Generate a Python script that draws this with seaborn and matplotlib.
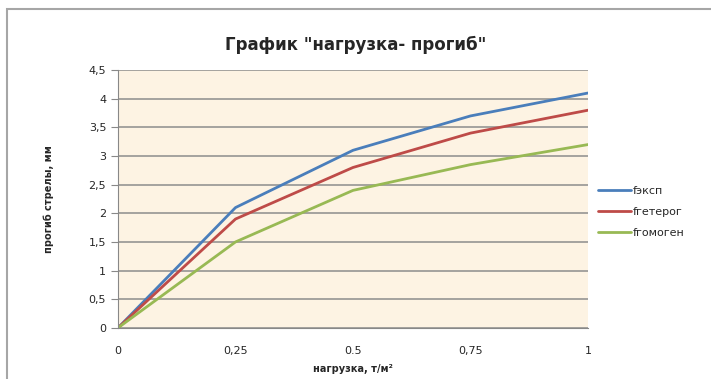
import pandas as pd
import matplotlib.pyplot as plt
import matplotlib.patches as mpatches
import seaborn as sns

# нагрузка, т/м2
load = [0, 0.25, 0.5, 0.75, 1]
f_exp = [0, 2.1, 3.1, 3.7, 4.1]
f_het = [0, 1.9, 2.8, 3.4, 3.8]
f_hom = [0, 1.5, 2.4, 2.85, 3.2]
series_names = ["fэксп", "fгетерог", "fгомоген"]
colors = ["#4A7EBB", "#BE4B48", "#98B954"]

data = pd.DataFrame({
    "load": load * 3,
    "defl": f_exp + f_het + f_hom,
    "series": [series_names[0]] * 5 + [series_names[1]] * 5 + [series_names[2]] * 5,
})

sns.set_style("white")
plt.rcParams["font.family"] = ["DejaVu Sans"]

fig = plt.figure(figsize=(7.11, 3.79), dpi=100)
ax = fig.add_axes([0.166, 0.135, 0.661, 0.68])
ax.set_facecolor("#FDF3E3")

# outer chart border
fig.patches.append(mpatches.Rectangle((0.010, -0.01), 1.0, 0.985, transform=fig.transFigure,
                                      fill=False, edgecolor="#A6A6A6", linewidth=1.5))

sns.lineplot(data=data, x="load", y="defl", hue="series", palette=colors,
             linewidth=2, ax=ax, legend=True)

ax.set_xlim(0, 1)
ax.set_ylim(0, 4.5)
ax.set_xticks(load)
ax.set_xticklabels(["0", "0,25", "0.5", "0,75", "1"], fontsize=8)
yt = [0, 0.5, 1, 1.5, 2, 2.5, 3, 3.5, 4, 4.5]
ax.set_yticks(yt)
ax.set_yticklabels(["0", "0,5", "1", "1,5", "2", "2,5", "3", "3,5", "4", "4,5"], fontsize=8)
ax.tick_params(axis="y", length=5, color="#888888", direction="out", left=True)
ax.tick_params(axis="x", length=0, pad=13)
ax.grid(axis="y", color="#8C8C8C", linewidth=1.1)
ax.grid(axis="x", visible=False)
for s in ["top", "right"]:
    ax.spines[s].set_visible(False)
ax.spines["left"].set_color("#888888")
ax.spines["bottom"].set_color("#888888")

ax.set_xlabel("нагрузка, т/м²", fontsize=7, fontweight="bold", labelpad=6)
ax.set_ylabel("прогиб стрелы, мм", fontsize=7, fontweight="bold", labelpad=25)
fig.text(0.5, 0.881, 'График "нагрузка- прогиб"', ha="center", va="center",
         fontsize=12, fontweight="bold")

leg = ax.legend(loc="center left", bbox_to_anchor=(1.0, 0.45), frameon=False,
                fontsize=8, handlelength=3.0, handletextpad=0.1, labelspacing=1.0)

fig.savefig("out.png", dpi=100)
